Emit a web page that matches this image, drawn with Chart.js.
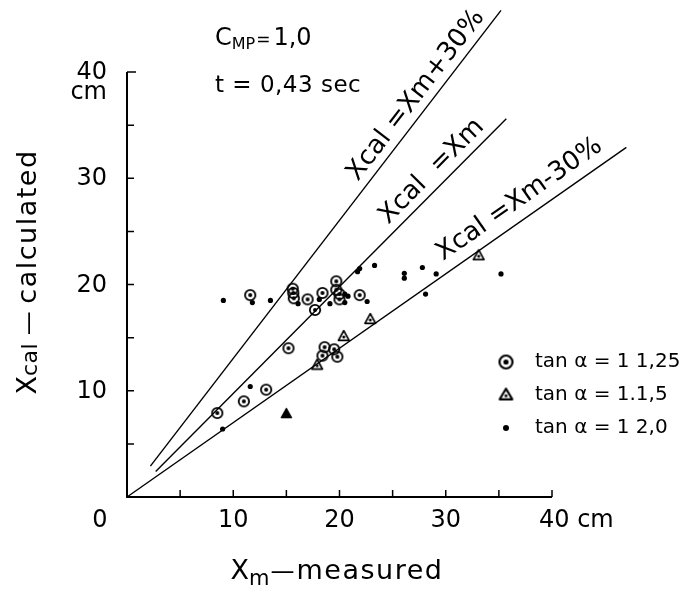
<!DOCTYPE html>
<html>
<head>
<meta charset="utf-8">
<title>Xcal vs Xm</title>
<script src="https://cdn.jsdelivr.net/npm/chart.js@4.4.1/dist/chart.umd.min.js"></script>
<style>
  html, body { margin: 0; padding: 0; background: #fff; }
  canvas { display: block; }
</style>
</head>
<body>
<canvas id="chart" width="691" height="592"></canvas>
<script>
// Xcal (calculated) against Xm (measured), C_MP = 1,0, t = 0,43 sec
// all values in cm

// tan a = 1:1,25  (circle with dot)
const circXm   = [11.6, 15.6, 15.65, 15.7, 17.0, 18.4, 17.7, 19.7, 19.7, 20.0, 20.0, 21.9, 15.2, 18.6, 19.5, 18.4, 19.8, 13.1, 11.0, 8.5];
const circXcal = [19.0, 19.6, 19.2, 18.7, 18.6, 19.2, 17.6, 20.3, 19.5, 19.1, 18.6, 19.0, 14.0, 14.1, 13.9, 13.3, 13.2, 10.1, 9.0, 7.9];

// tan a = 1:1,5  (triangle)
const triXm   = [33.1, 22.9, 20.4, 17.9];
const triXcal = [22.8, 16.8, 15.2, 12.5];
const triFilledXm   = [15.0];
const triFilledXcal = [7.9];

// tan a = 1:2,0  (dot)
const dotXm   = [9.07, 11.8, 13.5, 16.1, 18.1, 19.1, 20.5, 20.8, 20.5, 22.6, 21.9, 21.7, 23.3, 26.1, 26.1, 27.8, 29.1, 35.2, 28.1, 11.6, 9.0];
const dotXcal = [18.5, 18.3, 18.5, 18.2, 18.6, 18.2, 19.1, 18.9, 18.3, 18.4, 21.5, 21.2, 21.8, 21.05, 20.6, 21.6, 21.0, 21.0, 19.1, 10.4, 6.4];

// reference lines, end points (Xm, Xcal)
const linePlusXm  = [2.2, 35.2];
const linePlusXcal = [2.9, 45.8];
const lineEqXm   = [2.7, 35.7];
const lineEqXcal = [2.4, 35.6];
const lineMinusXm   = [0, 47.0];
const lineMinusXcal = [0, 32.9];

// axes
const xTickValues = [5, 10, 15, 20, 25, 30, 35, 40];
const yTickValues = [5, 10, 15, 20, 25, 30, 35, 40];
const xTickLabels = { 0: '0', 10: '10', 20: '20', 30: '30', 40: '40 cm' };
const yTickLabels = { 10: '10', 20: '20', 30: '30', 40: '40' };

const legendLabels = ['tan \u03b1 = 1 1,25', 'tan \u03b1 = 1.1,5', 'tan \u03b1 = 1 2,0'];

const FONT = '"DejaVu Sans", sans-serif';
const INK = '#000';

function pts(xs, ys) {
  return xs.map((x, i) => ({ x: x, y: ys[i] }));
}

// ---- marker images ----
function circleDot(size, r, lw, dotR) {
  const c = document.createElement('canvas');
  c.width = c.height = size;
  const g = c.getContext('2d');
  g.strokeStyle = INK; g.fillStyle = INK; g.lineWidth = lw;
  g.beginPath(); g.arc(size / 2, size / 2, r, 0, Math.PI * 2); g.stroke();
  g.beginPath(); g.arc(size / 2, size / 2, dotR, 0, Math.PI * 2); g.fill();
  return c;
}
function triangle(w, lw, filled) {
  const h = Math.round(w * 0.9);
  const c = document.createElement('canvas');
  c.width = w; c.height = h;
  const g = c.getContext('2d');
  g.strokeStyle = INK; g.fillStyle = INK; g.lineWidth = lw; g.lineJoin = 'round';
  g.beginPath();
  g.moveTo(w / 2, lw);
  g.lineTo(w - lw, h - lw);
  g.lineTo(lw, h - lw);
  g.closePath();
  if (filled) { g.fill(); }
  g.stroke();
  if (!filled) {
    g.beginPath(); g.arc(w / 2, h * 0.62, 1.5, 0, Math.PI * 2); g.fill();
  }
  return c;
}

const circImg = circleDot(14, 5.2, 1.8, 2.0);
const triImg = triangle(14, 1.7, false);
const triFilledImg = triangle(13, 1.5, true);
const circLegend = circleDot(17, 6.5, 2.2, 2.6);
const triLegend = triangle(17, 2.2, false);

function refLine(xs, ys) {
  return {
    type: 'line',
    data: pts(xs, ys),
    borderColor: INK,
    borderWidth: 1.4,
    pointRadius: 0,
    fill: false,
    clip: false,
  };
}

// mixed size text, left to right
function runs(ctx, items, x, y) {
  let cx = x;
  items.forEach(function (r) {
    ctx.font = r.size + 'px ' + FONT;
    ctx.letterSpacing = (r.ls || 0) + 'px';
    ctx.fillText(r.t, cx + (r.dx || 0), y + (r.dy || 0));
    cx += ctx.measureText(r.t).width + (r.dx || 0);
  });
  ctx.letterSpacing = '0px';
  return cx - x;
}
function runsWidth(ctx, items) {
  let w = 0;
  items.forEach(function (r) {
    ctx.font = r.size + 'px ' + FONT;
    ctx.letterSpacing = (r.ls || 0) + 'px';
    w += ctx.measureText(r.t).width + (r.dx || 0);
  });
  ctx.letterSpacing = '0px';
  return w;
}

const decor = {
  id: 'decor',
  afterDraw(chart) {
    const ctx = chart.ctx;
    const xs = chart.scales.x, ys = chart.scales.y;
    const X = v => xs.getPixelForValue(v);
    const Y = v => ys.getPixelForValue(v);
    const ox = X(0), oy = Y(0);

    ctx.save();
    ctx.strokeStyle = INK;
    ctx.fillStyle = INK;

    // axis lines
    ctx.lineWidth = 2;
    ctx.beginPath();
    ctx.moveTo(ox, Y(40)); ctx.lineTo(ox, oy); ctx.lineTo(X(40), oy);
    ctx.stroke();

    // inward ticks
    ctx.lineWidth = 1.5;
    ctx.beginPath();
    xTickValues.forEach(v => { ctx.moveTo(X(v), oy); ctx.lineTo(X(v), oy - 7); });
    yTickValues.forEach(v => { ctx.moveTo(ox, Y(v)); ctx.lineTo(ox + (v === 40 ? 9 : 7), Y(v)); });
    ctx.stroke();

    // tick labels
    ctx.font = '24px ' + FONT;
    ctx.textBaseline = 'alphabetic';
    Object.keys(xTickLabels).forEach(k => {
      const v = +k;
      const s = xTickLabels[k];
      if (v === 0) { ctx.textAlign = 'center'; ctx.fillText(s, ox - 27, oy + 30); }
      else if (v === 40) { ctx.textAlign = 'left'; ctx.fillText(s, X(v) - 13, oy + 30); }
      else { ctx.textAlign = 'center'; ctx.fillText(s, X(v), oy + 30); }
    });
    ctx.textAlign = 'right';
    ctx.textBaseline = 'middle';
    Object.keys(yTickLabels).forEach(k => {
      ctx.fillText(yTickLabels[k], ox - 20, Y(+k) + 1);
    });
    ctx.fillText('cm', ox - 20, Y(40) + 21);

    // axis titles
    ctx.textAlign = 'left';
    ctx.textBaseline = 'alphabetic';
    const xTitle = [
      { t: 'X', size: 27 },
      { t: 'm', size: 21, dy: 6 },
      { t: '\u2014', size: 24, dx: 1 },
      { t: 'measured', size: 27, ls: 1.5, dx: 2 },
    ];
    const xw = runsWidth(ctx, xTitle);
    runs(ctx, xTitle, 337 - xw / 2, 579);

    const yTitle = [
      { t: 'X', size: 27 },
      { t: 'cal', size: 22, ls: 0.5, dy: 1 },
      { t: ' \u2014 ', size: 24 },
      { t: 'calculated', size: 27, ls: 1.5 },
    ];
    const yw = runsWidth(ctx, yTitle);
    ctx.save();
    ctx.translate(36, 272);
    ctx.rotate(-Math.PI / 2);
    runs(ctx, yTitle, -yw / 2, 0);
    ctx.restore();

    // text block upper left
    runs(ctx, [
      { t: 'C', size: 24 },
      { t: 'MP', size: 16, dy: 4 },
      { t: '=', size: 17, dx: 1 },
      { t: '1,0', size: 24, dx: 3 },
    ], 215, 45);
    runs(ctx, [{ t: 't = 0,43 sec', size: 23, ls: 0.5 }], 215, 92);

    // labels along the reference lines
    function lineLabel(lx, ly, atX, text, off) {
      const p0x = X(lx[0]), p0y = Y(ly[0]), p1x = X(lx[1]), p1y = Y(ly[1]);
      const ang = Math.atan2(p1y - p0y, p1x - p0x);
      const f = (atX - lx[0]) / (lx[1] - lx[0]);
      const ax = p0x + (p1x - p0x) * f, ay = p0y + (p1y - p0y) * f;
      ctx.save();
      ctx.translate(ax, ay);
      ctx.rotate(ang);
      ctx.font = '26px ' + FONT;
      ctx.textAlign = 'left';
      ctx.textBaseline = 'alphabetic';
      ctx.fillText(text, 0, -off);
      ctx.restore();
    }
    lineLabel(linePlusXm, linePlusXcal, 22.4, 'Xcal =Xm+30%', 9);
    lineLabel(lineEqXm, lineEqXcal, 25.2, 'Xcal  =Xm', 9);
    lineLabel(lineMinusXm, lineMinusXcal, 30.4, 'Xcal =Xm-30%', 12);

    // legend
    const lx = 506, tx = 535, rows = [362, 395, 428];
    ctx.drawImage(circLegend, lx - circLegend.width / 2, rows[0] - circLegend.height / 2);
    ctx.drawImage(triLegend, lx - triLegend.width / 2, rows[1] - triLegend.height / 2 - 1);
    ctx.beginPath(); ctx.arc(lx, rows[2], 3, 0, Math.PI * 2); ctx.fill();
    ctx.font = '20px ' + FONT;
    ctx.textAlign = 'left';
    ctx.textBaseline = 'middle';
    legendLabels.forEach((s, i) => ctx.fillText(s, tx, rows[i]));

    ctx.restore();
  },
};

new Chart(document.getElementById('chart'), {
  type: 'scatter',
  data: {
    datasets: [
      refLine(linePlusXm, linePlusXcal),
      refLine(lineEqXm, lineEqXcal),
      refLine(lineMinusXm, lineMinusXcal),
      { label: legendLabels[0], data: pts(circXm, circXcal), pointStyle: circImg, clip: false },
      { label: legendLabels[1], data: pts(triXm, triXcal), pointStyle: triImg, clip: false },
      { label: '', data: pts(triFilledXm, triFilledXcal), pointStyle: triFilledImg, clip: false },
      { label: legendLabels[2], data: pts(dotXm, dotXcal), pointStyle: 'circle', pointRadius: 2.6,
        backgroundColor: INK, borderColor: INK, borderWidth: 0, clip: false },
    ],
  },
  options: {
    responsive: false,
    animation: false,
    devicePixelRatio: 1,
    events: [],
    layout: { padding: { left: 127, top: 72, right: 139, bottom: 95 } },
    plugins: { legend: { display: false }, tooltip: { enabled: false } },
    scales: {
      x: { type: 'linear', min: 0, max: 40, display: false },
      y: { type: 'linear', min: 0, max: 40, display: false },
    },
  },
  plugins: [decor],
});
</script>
</body>
</html>
